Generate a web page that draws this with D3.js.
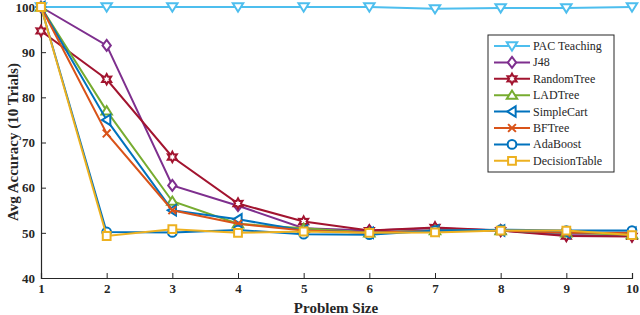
<!DOCTYPE html>
<html><head><meta charset="utf-8">
<script src="https://cdn.jsdelivr.net/npm/d3@7"></script>
<style>body{margin:0;background:#fff}svg{display:block}</style>
</head><body>
<script>
const problemSizes = [1,2,3,4,5,6,7,8,9,10];
const yTicks = [40,50,60,70,80,90,100];
const seriesNames = ["PAC Teaching","J48","RandomTree","LADTree","SimpleCart","BFTree","AdaBoost","DecisionTable"];
const pacTeaching   = [100,100,100,100,100,100,99.6,99.8,99.8,100];
const j48           = [100,91.5,60.5,56,51,50.5,51,50.5,49.5,49.3];
const randomTree    = [94.7,84,66.8,56.5,52.5,50.5,51.2,50.5,49.3,49.2];
const ladTree       = [100,77,57,52,51,50,50.5,50.5,50,49.6];
const simpleCart    = [100,75,55,53,50.5,50,50.5,50.5,50,50];
const bfTree        = [100,72,55,52,50.5,50,50.5,50.5,50,50];
const adaBoost      = [100,50.2,50.1,50.6,49.7,49.6,50.5,50.7,50.5,50.5];
const decisionTable = [100,49.3,50.8,50,50.3,50,50.1,50.5,50.5,49.5];
const seriesValues = [pacTeaching,j48,randomTree,ladTree,simpleCart,bfTree,adaBoost,decisionTable];
const colors = ["#4DBEEE","#7E2F8E","#A2142F","#77AC30","#0072BD","#D95319","#0072BD","#EDB120"];
const markers = ["tridown","diamond","hexagram","triup","trileft","x","circle","square"];

const W=640,H=315;
const svg=d3.select("body").append("svg").attr("width",W).attr("height",H);
const x=d3.scaleLinear().domain([1,10]).range([41,632]);
const y=d3.scaleLinear().domain([40,100]).range([278,7]);
const font="Liberation Serif, Times New Roman, serif";

function markerPath(type, r){
  switch(type){
    case "tridown": return `M${-r},${-r*0.7}L${r},${-r*0.7}L0,${r*0.9}Z`;
    case "triup": return `M${-r},${r*0.7}L${r},${r*0.7}L0,${-r*0.9}Z`;
    case "trileft": return `M${r*0.7},${-r}L${r*0.7},${r}L${-r*0.9},0Z`;
    case "diamond": return `M0,${-r*1.05}L${r*0.8},0L0,${r*1.05}L${-r*0.8},0Z`;
    case "square": return `M${-r*0.75},${-r*0.75}H${r*0.75}V${r*0.75}H${-r*0.75}Z`;
    case "circle": return d3.symbol(d3.symbolCircle, Math.PI*r*r*0.7)();
    case "x": return `M${-r*0.75},${-r*0.75}L${r*0.75},${r*0.75}M${-r*0.75},${r*0.75}L${r*0.75},${-r*0.75}`;
    case "hexagram": {
      const ro=r, ri=r*0.55; let p="";
      for(let i=0;i<12;i++){const a=-Math.PI/2+i*Math.PI/6; const rr=i%2?ri:ro; p+=(i?"L":"M")+(rr*Math.cos(a)).toFixed(2)+","+(rr*Math.sin(a)).toFixed(2);}
      return p+"Z";
    }
  }
}

// axes
const xAxis=d3.axisBottom(x).tickValues(problemSizes).tickSize(-5).tickPadding(6).tickFormat(d3.format("d"));
const yAxis=d3.axisLeft(y).tickValues(yTicks).tickSize(-5).tickPadding(6);
const gx=svg.append("g").attr("transform",`translate(0,278)`).call(xAxis);
const gy=svg.append("g").attr("transform",`translate(41,0)`).call(yAxis);
[gx,gy].forEach(g=>{
  g.attr("font-family",null).attr("font-size",null);
  g.select(".domain").attr("stroke","#262626").attr("stroke-width",1.2);
  g.selectAll(".tick line").attr("stroke","#262626");
  g.selectAll("text").style("font-family",font).attr("font-weight","bold").style("font-size","13px").attr("fill","#262626");
});

const line=d3.line().x((d,i)=>x(problemSizes[i])).y(d=>y(d));
seriesValues.forEach((vals,k)=>{
  const g=svg.append("g");
  g.append("path").attr("d",line(vals)).attr("fill","none").attr("stroke",colors[k]).attr("stroke-width",2);
  g.selectAll("path.m").data(vals).join("path").attr("class","m")
    .attr("d",markerPath(markers[k],5.2))
    .attr("transform",(d,i)=>`translate(${x(problemSizes[i])},${y(d)})`)
    .attr("fill",markers[k]==="x"?"none":"white").attr("stroke",colors[k]).attr("stroke-width",2);
});

// axis labels
svg.append("text").attr("x",336).attr("y",313).attr("text-anchor","middle")
  .style("font-family",font).attr("font-weight","bold").style("font-size","15px").attr("fill","#262626").text("Problem Size");
svg.append("text").attr("transform","translate(18,142) rotate(-90)").attr("text-anchor","middle")
  .style("font-family",font).attr("font-weight","bold").style("font-size","15px").attr("fill","#262626").text("Avg Accuracy (10 Trials)");

// legend
const lg=svg.append("g");
lg.append("rect").attr("x",488).attr("y",35).attr("width",126).attr("height",137).attr("fill","white").attr("stroke","#262626").attr("stroke-width",1);
seriesNames.forEach((n,k)=>{
  const yy=46+k*16.4;
  lg.append("line").attr("x1",494).attr("x2",530).attr("y1",yy).attr("y2",yy).attr("stroke",colors[k]).attr("stroke-width",2);
  lg.append("path").attr("d",markerPath(markers[k],5.2)).attr("transform",`translate(512,${yy})`)
    .attr("fill",markers[k]==="x"?"none":"white").attr("stroke",colors[k]).attr("stroke-width",2);
  lg.append("text").attr("x",533).attr("y",yy+4).style("font-family",font).style("font-size","12px").attr("fill","#262626").text(n);
});
</script>
</body></html>
